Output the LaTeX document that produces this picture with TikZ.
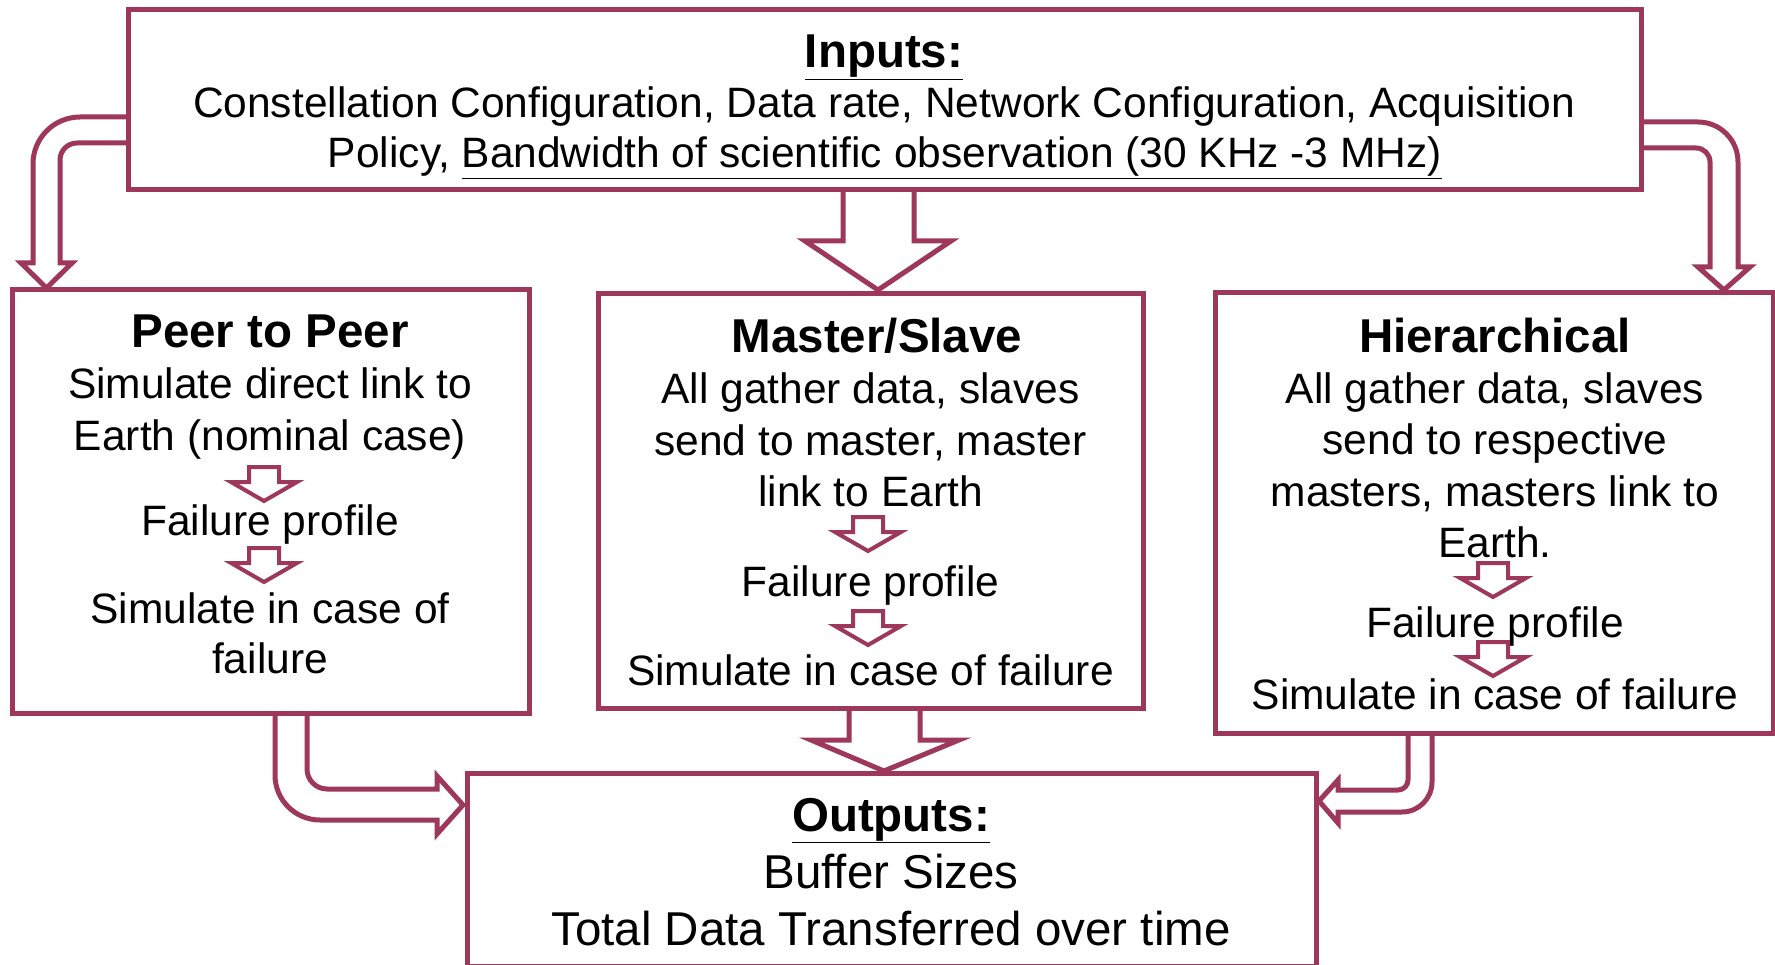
\documentclass[tikz,border=0pt]{standalone}
\usepackage{fontspec}
\setmainfont{Liberation Sans}
\definecolor{wine}{RGB}{157,56,92}

% small down arrow: centre x, top y
\newcommand\minorarrow[2]{%
  \draw[minor] (#1-15,#2) -- (#1-15,#2+15) -- (#1-33,#2+15) -- (#1,#2+34)
    -- (#1+33,#2+15) -- (#1+15,#2+15) -- (#1+15,#2) -- cycle;}

\begin{document}
\begin{tikzpicture}[x=1pt,y=-1pt,
  box/.style={draw=wine, line width=5pt, inner sep=0pt, rectangle},
  body/.style={anchor=base, font=\fontsize{42.5}{51}\selectfont, inner sep=0pt},
  bigbody/.style={anchor=base, font=\fontsize{47.5}{57}\selectfont, inner sep=0pt},
  title/.style={anchor=base, font=\fontsize{47.5}{57}\selectfont\bfseries, inner sep=0pt},
  blockarrow/.style={draw=wine, line width=5pt, line join=miter},
  minor/.style={draw=wine, line width=4pt, line join=miter}]
\useasboundingbox (0,0) rectangle (1775,965);

% boxes
\node[box, minimum width=1513pt, minimum height=180.5pt] (inputs) at (884.5,99.75) {};
\node[box, minimum width=517pt, minimum height=423pt] (p2p) at (270.5,501.5) {};
\node[box, minimum width=545pt, minimum height=414pt] (ms) at (870.5,501) {};
\node[box, minimum width=558.5pt, minimum height=440pt] (hier) at (1494.25,513) {};
\node[box, minimum width=848.5pt, minimum height=193pt] (outputs) at (891.75,869.5) {};

% block arrows between boxes
\draw[blockarrow] (843,190) -- (843,241) -- (805,241) -- (878,290) -- (951,241) -- (914,241) -- (914,190);
\draw[blockarrow] (849,708) -- (849,740) -- (811,740) -- (884,771) -- (959,740) -- (920,740) -- (920,708);

\draw[blockarrow] (128,117) -- (80,117) .. controls (54,117) and (33,138) .. (33,164)
  -- (33,263) -- (21,263) -- (46.5,288) -- (72,263) -- (60,263) -- (60,160)
  .. controls (60,150.6) and (67.6,143) .. (77,143) -- (128,143);

\draw[blockarrow] (1641,122) -- (1698,122) .. controls (1720.1,122) and (1738,139.9) .. (1738,162)
  -- (1738,267) -- (1750,267) -- (1724,290) -- (1698,267) -- (1710,267) -- (1710,162)
  .. controls (1710,154.3) and (1703.7,148) .. (1696,148) -- (1641,148);

\draw[blockarrow] (275,713) -- (275,775) .. controls (275,799.9) and (295.1,820) .. (320,820)
  -- (437,820) -- (437,834) -- (463,805) -- (437,776) -- (437,789) -- (327,789)
  .. controls (316,789) and (307,780) .. (307,769) -- (307,713);

\draw[blockarrow] (1432,733) -- (1432,782) .. controls (1432,798.6) and (1418.6,812) .. (1402,812)
  -- (1338,812) -- (1338,823) -- (1319,801) -- (1338,780) -- (1338,790) -- (1398,790)
  .. controls (1403.5,790) and (1408,785.5) .. (1408,780) -- (1408,733);

% inputs
\node[title] (inTitle) at (884,68) {\underline{Inputs:}};
\node[body] (inA) at (884,118) {Constellation Configuration, Data rate, Network Configuration, Acquisition};
\node[body] (inB) at (885,168) {Policy, \underline{Bandwidth of scientific observation (30 KHz -3 MHz)}};

% peer to peer
\node[title] (pTitle) at (270,348) {Peer to Peer};
\node[body] (pA) at (270,399) {Simulate direct link to};
\node[body] (pB) at (270,450) {Earth (nominal case)};
\minorarrow{264}{467}
\node[body] (pC) at (270,535) {Failure profile};
\minorarrow{264}{548}
\node[body] (pD) at (270,623) {Simulate in case of};
\node[body] (pE) at (270,673) {failure};

% master / slave
\node[title] (mTitle) at (877,353) {Master/Slave};
\node[body] (mA) at (870.5,403) {All gather data, slaves};
\node[body] (mB) at (870.5,455) {send to master, master};
\node[body] (mC) at (870.5,506) {link to Earth};
\minorarrow{868}{517}
\node[body] (mD) at (870.5,596) {Failure profile};
\minorarrow{868}{611}
\node[body] (mE) at (870.5,685) {Simulate in case of failure};

% hierarchical
\node[title] (hTitle) at (1495,353) {Hierarchical};
\node[body] (hA) at (1495,403) {All gather data, slaves};
\node[body] (hB) at (1495,454) {send to respective};
\node[body] (hC) at (1495,506) {masters, masters link to};
\node[body] (hD) at (1495,557) {Earth.};
\minorarrow{1493}{563}
\node[body] (hE) at (1495,637) {Failure profile};
\minorarrow{1493}{642}
\node[body] (hF) at (1495,709) {Simulate in case of failure};

% outputs
\node[title] (oTitle) at (891,831) {\underline{Outputs:}};
\node[bigbody] (oA) at (891,888) {Buffer Sizes};
\node[bigbody] (oB) at (891,945) {Total Data Transferred over time};
\end{tikzpicture}
\end{document}
